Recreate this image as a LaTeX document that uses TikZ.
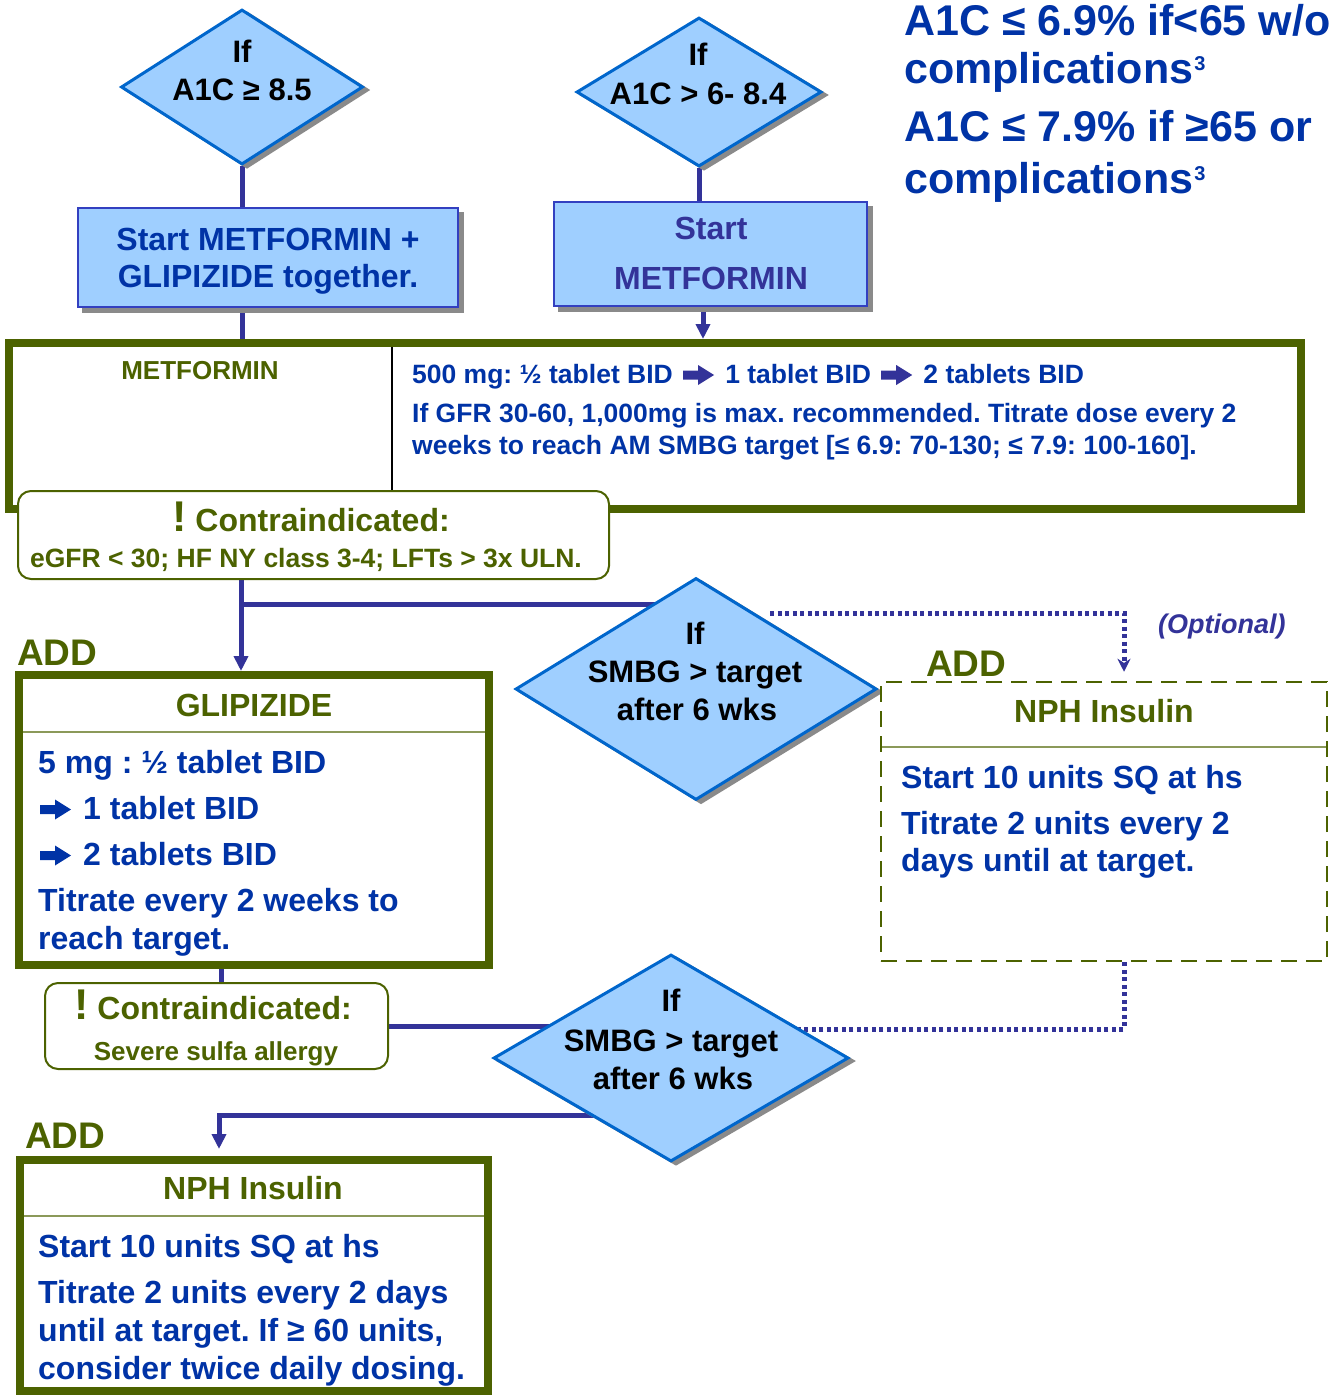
\documentclass[tikz,border=0pt]{standalone}
\usepackage{fontspec}
\setmainfont{Liberation Sans}
\frenchspacing
\usetikzlibrary{shapes.geometric,arrows.meta,shadows,fit,backgrounds}
\definecolor{ogreen}{HTML}{4C6200}
\definecolor{tblue}{HTML}{0033A6}
\definecolor{cpurple}{HTML}{333399}
\definecolor{dfill}{HTML}{9FCFFF}
\definecolor{dborder}{HTML}{0066CC}
\definecolor{bborder}{HTML}{3340C0}
\definecolor{shgray}{HTML}{8A8A8A}
\newcommand\myfs[1]{\fontsize{#1}{#1}\selectfont}
\newcommand\supthree{\kern1pt\raisebox{13pt}{\myfs{20}3}}
\tikzset{
  conn/.style={draw=cpurple, line width=5pt},
  witharrow/.style={-{Triangle[length=15pt,width=14pt]}},
  dotarrow/.style={-{Stealth[length=13pt,width=13pt]}},
  dotc/.style={draw=cpurple, line width=5pt, dash pattern=on 4pt off 3.5pt},
  dia/.style={shape=diamond, draw=dborder, line width=3pt, fill=dfill, inner sep=0pt,
    copy shadow={shadow xshift=5pt, shadow yshift=-3pt, fill=shgray, draw=shgray}},
  bbox/.style={rectangle, draw=bborder, line width=2.5pt, fill=dfill, inner sep=0pt,
    copy shadow={shadow xshift=5pt, shadow yshift=-5pt, fill=shgray, draw=shgray}},
  gbox/.style={rectangle, draw=ogreen, line width=8pt, fill=white, inner sep=0pt},
  cbox/.style={rectangle, rounded corners=13pt, draw=ogreen, line width=2pt, fill=white, inner sep=0pt},
  dbox/.style={rectangle, draw=ogreen, line width=2.5pt, dash pattern=on 16pt off 9pt, fill=white, inner sep=0pt},
  hdiv/.style={draw=ogreen!65, line width=2pt},
  lbl/.style={inner sep=0pt, font=\bfseries},
  harrow/.pic={\path[pic actions] (0,-4.5) -- (15,-4.5) -- (15,-10) -- (31,0) -- (15,10) -- (15,4.5) -- (0,4.5) -- cycle;},
}
\begin{document}
\begin{tikzpicture}[x=1pt,y=-1pt]
\useasboundingbox (0,0) rectangle (1333,1395);

% ---------- shapes ----------
\node[dia, minimum width=242pt, minimum height=155pt] (d1) at (242,87) {};
\node[dia, minimum width=245pt, minimum height=149pt] (d2) at (699,92) {};
\node[bbox, fit={(78,208) (458,307)}] (b1) {};
\node[bbox, fit={(554,202) (867,306)}] (b2) {};
\node[gbox, fit={(9,343) (1301,509)}] (met) {};
\draw[black, line width=2pt] (392,347) -- (392,492);
\node[cbox, fit={(18,491) (609,579)}] (c1) {};
\node[dia, minimum width=361pt, minimum height=222pt] (d3) at (696,689) {};
\node[gbox, fit={(19,675) (489,965)}] (gl) {};
\draw[hdiv] (23,732) -- (485,732);
\node[dbox, fit={(881,682) (1327,961)}] (nph1) {};
\draw[hdiv] (882,747) -- (1326,747);
\node[cbox, fit={(45,983) (388,1069)}] (c2) {};
\node[dia, minimum width=355pt, minimum height=207pt] (d4) at (671,1058) {};
\node[gbox, fit={(20,1160) (488,1391)}] (nph2) {};
\draw[hdiv] (24,1216) -- (484,1216);

% ---------- connectors ----------
\coordinate (xM) at (703,320);
\coordinate (jA) at (241,604);
\coordinate (xB) at (221,1000);
\coordinate (jC) at (219,1115);
\coordinate (dS) at (770,613);
\coordinate (xD) at (1124,613);
\coordinate (xE) at (1124,1029);
\begin{scope}[on background layer]
\draw[conn] (d1.south) -- (d1.south |- b1.north);
\draw[conn] (d1.south |- b1.south) -- (d1.south |- met.north);
\draw[conn] (d2.south) -- (d2.south |- b2.north);
\draw[conn, witharrow] (xM |- b2.south) -- (xM |- met.north);
\draw[conn, witharrow] (jA |- c1.south) -- (jA |- gl.north);
\draw[conn] (jA) -- (jA -| d3.center);
\draw[conn] (xB |- gl.south) -- (xB |- c2.north);
\draw[conn] (c2.east) -- (c2.east -| d4.center);
\draw[conn, witharrow, shorten >=7pt] (jC -| d4.center) -- (jC) -- (jC |- nph2.north);
\draw[dotc, dotarrow, shorten >=9pt] (dS) -- (xD) -- (xD |- nph1.north);
\draw[dotc] (xE |- nph1.south) -- (xE) -- (xE -| d4.center);
\end{scope}

% ---------- texts ----------
\begin{scope}[every node/.append style={lbl}]
% top right
\node[text=tblue, font=\bfseries\myfs{43}, anchor=base west] (tr1) at (904,35) {A1C ≤ 6.9\% if<65 w/o};
\node[text=tblue, font=\bfseries\myfs{43}, anchor=base west] (tr2) at (904,83) {complications\supthree};
\node[text=tblue, font=\bfseries\myfs{43}, anchor=base west] (tr3) at (904,141) {A1C ≤ 7.9\% if ≥65 or};
\node[text=tblue, font=\bfseries\myfs{43}, anchor=base west] (tr4) at (904,193) {complications\supthree};
% diamonds
\node[font=\bfseries\myfs{31}, anchor=base] (d1a) at (242,62) {If};
\node[font=\bfseries\myfs{31}, anchor=base] (d1b) at (242,100) {A1C ≥ 8.5};
\node[font=\bfseries\myfs{31}, anchor=base] (d2a) at (698,65) {If};
\node[font=\bfseries\myfs{31}, anchor=base] (d2b) at (698,104) {A1C > 6- 8.4};
\node[font=\bfseries\myfs{31}, anchor=base] (d3a) at (695,644) {If};
\node[font=\bfseries\myfs{31}, anchor=base] (d3b) at (695,682) {SMBG > target};
\node[font=\bfseries\myfs{31}, anchor=base] (d3c) at (697,720) {after 6 wks};
\node[font=\bfseries\myfs{31}, anchor=base] (d4a) at (671,1011) {If};
\node[font=\bfseries\myfs{31}, anchor=base] (d4b) at (671,1051) {SMBG > target};
\node[font=\bfseries\myfs{31}, anchor=base] (d4c) at (673,1089) {after 6 wks};
% blue boxes
\node[text=tblue, font=\bfseries\myfs{32}, anchor=base] (b1a) at (268,250) {Start METFORMIN +};
\node[text=tblue, font=\bfseries\myfs{32}, anchor=base] (b1b) at (268,287) {GLIPIZIDE together.};
\node[text=cpurple, font=\bfseries\myfs{32}, anchor=base] (b2a) at (711,239) {Start};
\node[text=cpurple, font=\bfseries\myfs{32}, anchor=base] (b2b) at (711,289) {METFORMIN};
% metformin box
\node[text=ogreen, font=\bfseries\myfs{26}, anchor=base] (m0) at (200,379) {METFORMIN};
\node[text=tblue, font=\bfseries\myfs{26.5}, anchor=base west] (m1a) at (412,383) {500 mg: ½ tablet BID};
\pic[fill=cpurple] at ([xshift=10pt, yshift=8pt]m1a.base east) {harrow};
\node[text=tblue, font=\bfseries\myfs{26.5}, anchor=base west] (m1b) at ([xshift=52pt]m1a.base east) {1 tablet BID};
\pic[fill=cpurple] at ([xshift=10pt, yshift=8pt]m1b.base east) {harrow};
\node[text=tblue, font=\bfseries\myfs{26.5}, anchor=base west] (m1c) at ([xshift=52pt]m1b.base east) {2 tablets BID};
\node[text=tblue, font=\bfseries\myfs{26.5}, anchor=base west] (m2) at (412,422)
  {If GFR 30-60, 1,000mg is max. recommended. Titrate dose every 2};
\node[text=tblue, font=\bfseries\myfs{26.5}, anchor=base west] (m3) at (412,454)
  {weeks to reach AM SMBG target [≤ 6.9: 70-130; ≤ 7.9: 100-160].};
% contraindicated 1
\node[text=ogreen, font=\bfseries\myfs{32}, anchor=base] (c1a) at (311,531) {{\myfs{43}!} Contraindicated:};
\node[text=ogreen, font=\bfseries\myfs{26.5}, anchor=base] (c1b) at (306,567) {eGFR < 30; HF NY class 3-4; LFTs > 3x ULN.};
% ADD labels
\node[text=ogreen, font=\bfseries\myfs{37}, anchor=base west] (add1) at (17,665) {ADD};
\node[text=ogreen, font=\bfseries\myfs{37}, anchor=base west] (add2) at (926,676) {ADD};
\node[text=ogreen, font=\bfseries\myfs{37}, anchor=base west] (add3) at (25,1148) {ADD};
\node[text=cpurple, font=\bfseries\itshape\myfs{27}, anchor=base west] (opt) at (1158,633) {(Optional)};
% glipizide box
\node[text=ogreen, font=\bfseries\myfs{32}, anchor=base] (g0) at (254,716) {GLIPIZIDE};
\node[text=tblue, font=\bfseries\myfs{32}, anchor=base west] (g1) at (38,773) {5 mg : ½ tablet BID};
\pic[fill=tblue] at (40,809.5) {harrow};
\node[text=tblue, font=\bfseries\myfs{32}, anchor=base west] (g2) at (83,819) {1 tablet BID};
\pic[fill=tblue] at (40,855.5) {harrow};
\node[text=tblue, font=\bfseries\myfs{32}, anchor=base west] (g3) at (83,865) {2 tablets BID};
\node[text=tblue, font=\bfseries\myfs{32}, anchor=base west] (g4) at (38,911) {Titrate every 2 weeks to};
\node[text=tblue, font=\bfseries\myfs{32}, anchor=base west] (g5) at (38,949) {reach target.};
% right NPH box
\node[text=ogreen, font=\bfseries\myfs{32}, anchor=base] (n0) at (1104,722) {NPH Insulin};
\node[text=tblue, font=\bfseries\myfs{32}, anchor=base west] (n1) at (901,788) {Start 10 units SQ at hs};
\node[text=tblue, font=\bfseries\myfs{32}, anchor=base west] (n2) at (901,834) {Titrate 2 units every 2};
\node[text=tblue, font=\bfseries\myfs{32}, anchor=base west] (n3) at (901,871) {days until at target.};
% contraindicated 2
\node[text=ogreen, font=\bfseries\myfs{32}, anchor=base] (c2a) at (213,1019) {{\myfs{43}!} Contraindicated:};
\node[text=ogreen, font=\bfseries\myfs{26}, anchor=base] (c2b) at (216,1060) {Severe sulfa allergy};
% bottom NPH box
\node[text=ogreen, font=\bfseries\myfs{32}, anchor=base] (p0) at (253,1199) {NPH Insulin};
\node[text=tblue, font=\bfseries\myfs{32}, anchor=base west] (p1) at (38,1257) {Start 10 units SQ at hs};
\node[text=tblue, font=\bfseries\myfs{32}, anchor=base west] (p2) at (38,1303) {Titrate 2 units every 2 days};
\node[text=tblue, font=\bfseries\myfs{32}, anchor=base west] (p3) at (38,1341) {until at target. If ≥ 60 units,};
\node[text=tblue, font=\bfseries\myfs{32}, anchor=base west] (p4) at (38,1379) {consider twice daily dosing.};
\end{scope}
\end{tikzpicture}
\end{document}
